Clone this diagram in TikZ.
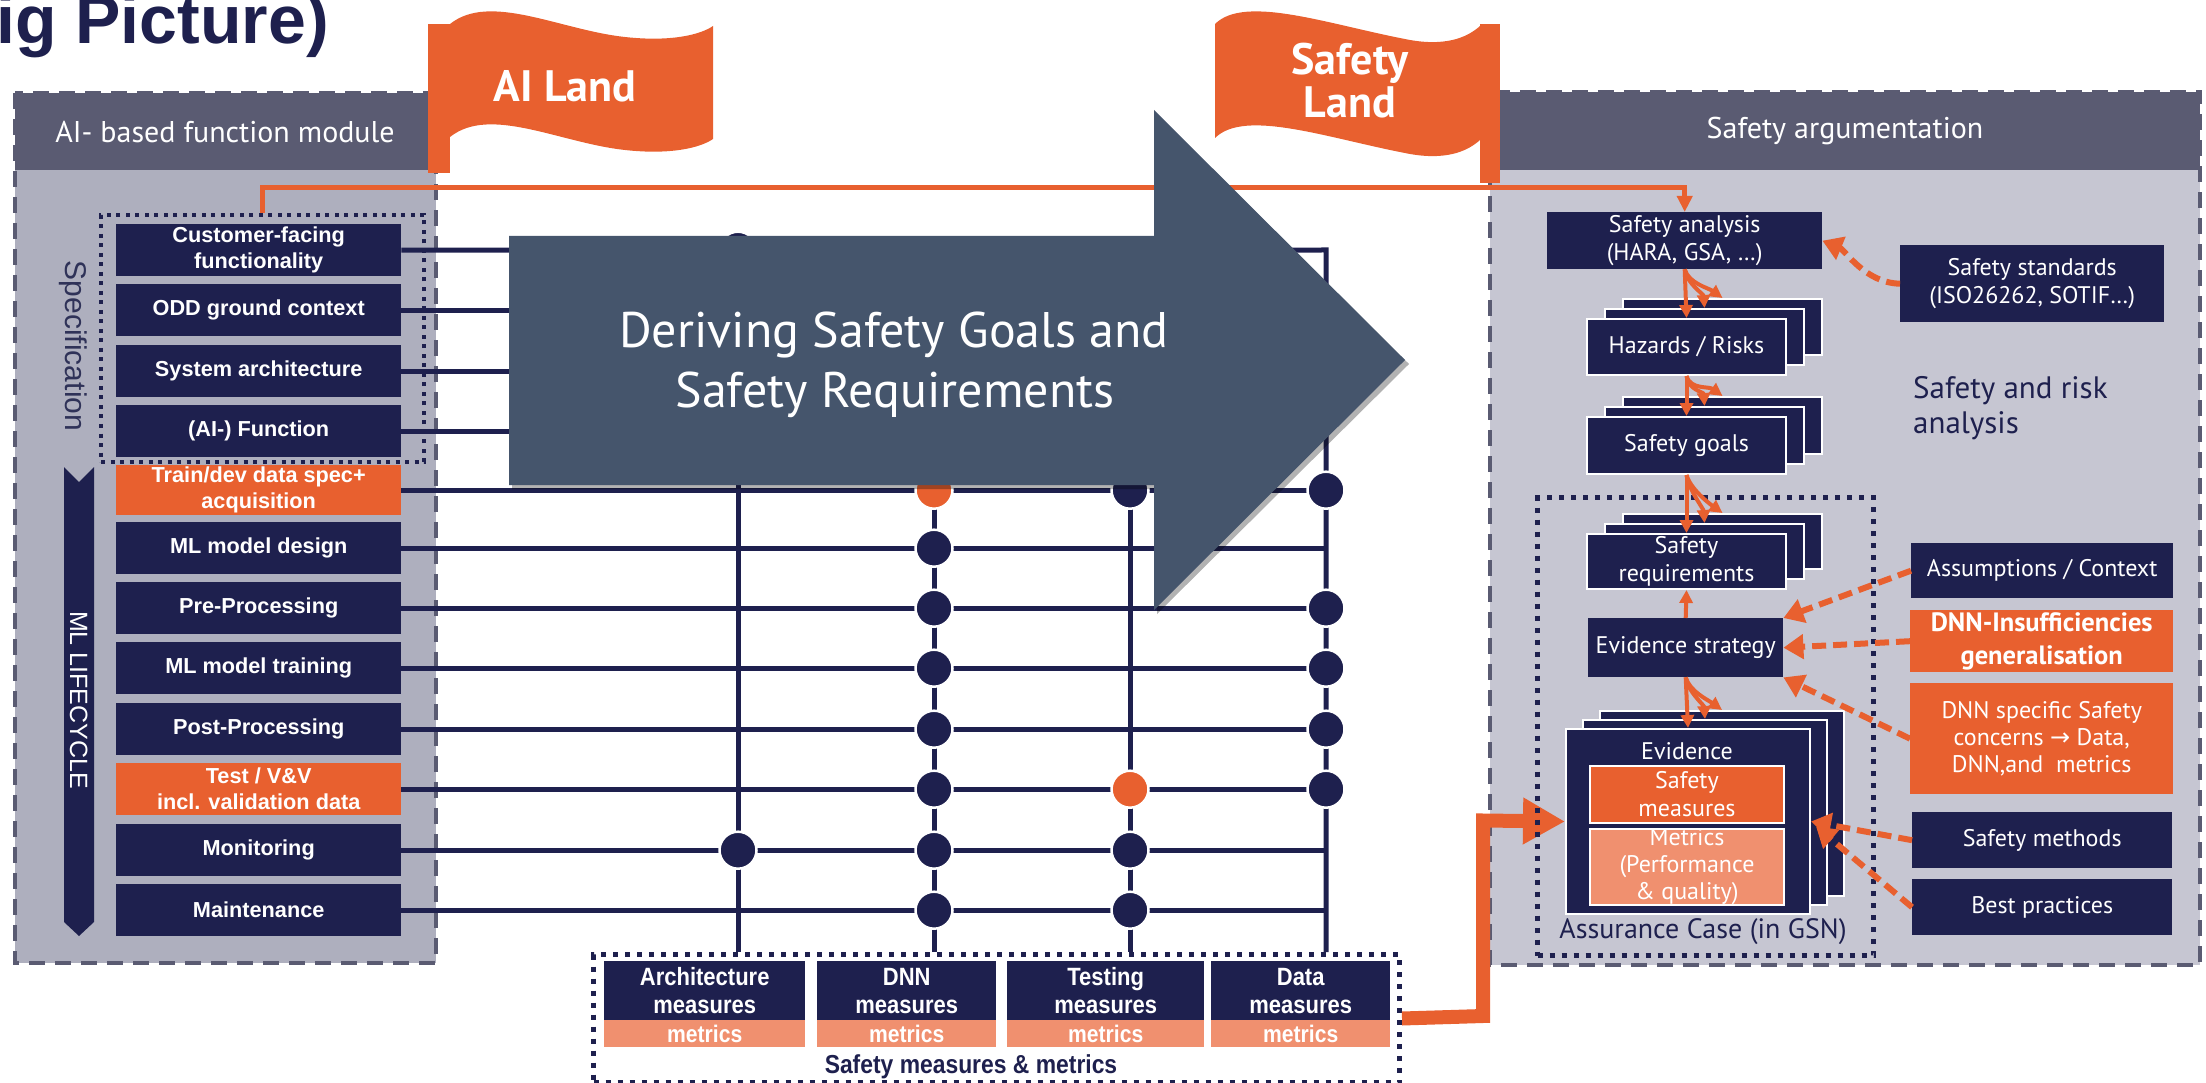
\documentclass[tikz,border=0pt]{standalone}
\usepackage{fontspec}
\setmainfont{PT Sans}
\newfontfamily\lsans{Liberation Sans}
\newfontfamily\nsans[FakeStretch=0.88]{Liberation Sans}
\newfontfamily\dvs{DejaVu Sans}
\usetikzlibrary{arrows.meta}
\definecolor{navy}{HTML}{1E204E}
\definecolor{orng}{HTML}{E8602F}
\definecolor{salmon}{HTML}{F0906F}
\definecolor{hdr}{HTML}{5A5B72}
\definecolor{lbody}{HTML}{AEAFBE}
\definecolor{rbody}{HTML}{C6C6D2}
\definecolor{arrowc}{HTML}{45556C}
\definecolor{specc}{HTML}{2F3258}
\newcommand\fsz[2]{\fontsize{#1}{#2}\selectfont}
\newcommand\stk[5]{%
  \node[sbox, minimum height=#4pt] (#1b) at (#2+36,#3-20) {};
  \node[sbox, minimum height=#4pt] (#1m) at (#2+18,#3-10) {};
  \node[sbox, minimum height=#4pt] (#1f) at (#2,#3) {#5};}
\newcommand\fanx[4]{%
  \draw[fanarr] (#1) -- (#2);
  \draw[fanarr] (#1) .. controls +(2,14) and +(-1,-14) .. (#3);
  \draw[fanarr] (#1) .. controls +(4,14) and +(-14,-10) .. (#4);}
\begin{document}
\begin{tikzpicture}[x=1pt,y=-1pt,
  lbox/.style={rectangle, fill=navy, text=white, inner sep=0pt, minimum width=285pt, minimum height=52pt, anchor=north west, align=center, font=\lsans\bfseries\fsz{21.7}{26}},
  rbox/.style={rectangle, fill=navy, text=white, inner sep=0pt, anchor=north west, align=center, font=\fsz{24}{28}},
  sbox/.style={rbox, draw=white, line width=2pt, minimum width=199pt},
  measbox/.style={rectangle, fill=navy, text=white, inner sep=0pt, anchor=north west, align=center, minimum height=59pt, font=\nsans\bfseries\fsz{25}{28}},
  metr/.style={rectangle, fill=salmon, text=white, inner sep=0pt, anchor=north west, minimum height=27pt, font=\nsans\bfseries\fsz{24}{26}},
  gline/.style={navy, line width=5pt},
  gdot/.style={circle, fill=navy, draw=white, line width=2.5pt, minimum size=37pt, inner sep=0pt},
  godot/.style={gdot, fill=orng},
  dashbox/.style={hdr, line width=4.5pt, dash pattern=on 16pt off 10pt},
  dotbox/.style={draw=navy, line width=5pt, dash pattern=on 5pt off 7pt, inner sep=0pt, anchor=north west},
  fanarr/.style={orng, line width=4pt, -{Triangle[length=13pt,width=13pt]}},
  dasharr/.style={orng, line width=6pt, dash pattern=on 14pt off 7pt, -{Triangle[length=20pt,width=24pt]}},
]
\useasboundingbox (0,0) rectangle (2206,1083);

% title
\node[anchor=base west, inner sep=0pt, text=navy, font=\lsans\bfseries\fsz{68}{74}] (title) at (-4,44) {ig Picture)};

% left panel
\fill[hdr] (15,93) rectangle (436,170);
\fill[lbody] (15,170) rectangle (436,963);
\draw[dashbox] (15,93) rectangle (436,963);
\node[text=white, font=\fsz{30}{34}] (lhdr) at (225,132) {AI- based function module};

% right panel
\fill[hdr] (1490,92) rectangle (2200,170);
\fill[rbody] (1490,170) rectangle (2200,965);
\draw[dashbox] (1490,92) rectangle (2200,965);
\node[text=white, font=\fsz{30}{34}] (rhdr) at (1845,131) {Safety argumentation};

% flags
\fill[orng] (428,24) rectangle (450,173);
\fill[orng] (450,24) .. controls (490,-8) and (560,30) .. (625,37) .. controls (670,42) and (700,35) .. (713,26)
  -- (713,139) .. controls (700,148) and (670,155) .. (625,150) .. controls (560,143) and (490,105) .. (450,137) -- cycle;
\node[anchor=base, text=white, font=\bfseries\fsz{44}{50}, inner sep=0pt] (ail) at (565,102) {AI Land};
\fill[orng] (1480,24) rectangle (1500,183);
\fill[orng] (1215,24) .. controls (1245,-6) and (1330,25) .. (1410,40) .. controls (1450,47) and (1470,35) .. (1480,26)
  -- (1480,140) .. controls (1470,149) and (1450,161) .. (1410,154) .. controls (1330,139) and (1245,108) .. (1215,138) -- cycle;
\node[anchor=base, text=white, font=\bfseries\fsz{44}{50}, inner sep=0pt] (sl1) at (1350,75) {Safety};
\node[anchor=base, text=white, font=\bfseries\fsz{44}{50}, inner sep=0pt] (sl2) at (1350,118) {Land};

% ML lifecycle band and specification label
\fill[navy] (64,467) -- (79,482) -- (94,467) -- (94,922) -- (79,936) -- (64,922) -- cycle;
\node[rotate=-90, anchor=base, text=white, font=\lsans\fsz{25}{30}, inner sep=0pt] (mltxt) at (70,700) {ML LIFECYCLE};
\node[rotate=-90, anchor=base, text=specc, font=\lsans\fsz{30}{34}, inner sep=0pt] (spectxt) at (65,346) {Specification};

% left boxes
\node[lbox] (cf) at (116,224) {Customer-facing\\functionality};
\node[lbox] (odd) at (116,284) {ODD ground context};
\node[lbox] (sys) at (116,345) {System architecture};
\node[lbox] (aif) at (116,405) {(AI-) Function};
\node[lbox, fill=orng, minimum height=50pt] (trn) at (116,465) {Train/dev data spec+\\acquisition};
\node[lbox] (mld) at (116,522) {ML model design};
\node[lbox] (pre) at (116,582) {Pre-Processing};
\node[lbox] (mlt) at (116,642) {ML model training};
\node[lbox] (post) at (116,703) {Post-Processing};
\node[lbox, fill=orng] (test) at (116,763) {Test / V\&V\\incl. validation data};
\node[lbox] (mon) at (116,824) {Monitoring};
\node[lbox] (mnt) at (116,884) {Maintenance};
\node[dotbox, line width=4pt, dash pattern=on 4pt off 5.5pt, minimum width=323pt, minimum height=247pt] (spec) at (99,213) {};

% right panel nodes
\node[rbox, minimum width=275pt, minimum height=57pt] (sa) at (1547,212) {Safety analysis\\(HARA, GSA, …)};
\node[rbox, minimum width=264pt, minimum height=77pt] (ss) at (1900,245) {Safety standards\\(ISO26262, SOTIF…)};
\stk{hz}{1586}{318}{56}{Hazards / Risks}
\stk{g}{1586}{416}{57}{Safety goals}
\stk{r}{1586}{533}{55}{Safety\\requirements}
\node[rbox, minimum width=195pt, minimum height=59pt] (evs) at (1588,618) {Evidence strategy};
\node[sbox, minimum width=244pt, minimum height=185pt] (evb) at (1599,710) {};
\node[sbox, minimum width=244pt, minimum height=185pt] (evm) at (1582,719) {};
\node[sbox, minimum width=244pt, minimum height=185pt] (evf) at (1565,728) {};
\node[text=white, anchor=base, font=\fsz{24}{28}, inner sep=0pt] (evt) at (1687,759) {Evidence};
\node[rbox, fill=orng, draw=white, line width=2pt, minimum width=194pt, minimum height=57pt] (smeas) at (1589,765) {Safety\\measures};
\node[rbox, fill=salmon, draw=white, line width=2pt, minimum width=194pt, minimum height=75pt, font=\fsz{24}{27}] (metx) at (1589,828) {Metrics\\(Performance\\\& quality)};
\node[rbox, minimum width=262pt, minimum height=55pt] (asm) at (1911,543) {Assumptions / Context};
\node[rbox, fill=orng, minimum width=263pt, minimum height=62pt, font=\bfseries\fsz{26.5}{33}] (dnni) at (1910,610) {DNN-Insufficiencies\\generalisation};
\node[rbox, fill=orng, minimum width=263pt, minimum height=111pt, font=\fsz{24}{27}] (dnns) at (1910,683) {DNN specific Safety\\concerns {\dvs →} Data,\\DNN,and\ \ metrics};
\node[rbox, minimum width=260pt, minimum height=56pt] (sm) at (1912,812) {Safety methods};
\node[rbox, minimum width=260pt, minimum height=56pt] (bp) at (1912,879) {Best practices};
\node[anchor=base west, text=navy, font=\fsz{31}{35}, inner sep=0pt] (sra1) at (1913,398) {Safety and risk};
\node[anchor=base west, text=navy, font=\fsz{31}{35}, inner sep=0pt] (sra2) at (1913,433) {analysis};

% top orange line
\draw[orng, line width=5pt, -{Triangle[length=16pt,width=15pt]}] (spec.north) -- ++(0,-25) -| (sa.north);

% grid
\coordinate (v1t) at (738,250); \coordinate (v1b) at (738,952);
\coordinate (v2t) at (934,250); \coordinate (v2b) at (934,952);
\coordinate (v3t) at (1130,250); \coordinate (v3b) at (1130,952);
\coordinate (v4t) at (1326,250); \coordinate (v4b) at (1326,952);
\draw[gline] (v1t) -- (v1b);
\draw[gline] (v2t) -- (v2b);
\draw[gline] (v3t) -- (v3b);
\draw[gline, line join=miter] (cf.east) -- (v4t) -- (v4b);
\foreach \r in {odd,sys,aif,trn,mld,pre,mlt,post,test,mon,mnt}
  \draw[gline] (\r.east) -- (\r.east -| v4t);
\node[gdot] (d1a) at (cf.east -| v1t) {};
\node[godot] (d5b) at (trn.east -| v2t) {};
\node[gdot] (d5c) at (trn.east -| v3t) {};
\node[gdot] (d5d) at (trn.east -| v4t) {};
\node[gdot] (d6b) at (mld.east -| v2t) {};
\node[gdot] (d7b) at (pre.east -| v2t) {};
\node[gdot] (d7d) at (pre.east -| v4t) {};
\node[gdot] (d8b) at (mlt.east -| v2t) {};
\node[gdot] (d8d) at (mlt.east -| v4t) {};
\node[gdot] (d9b) at (post.east -| v2t) {};
\node[gdot] (d9d) at (post.east -| v4t) {};
\node[gdot] (d10b) at (test.east -| v2t) {};
\node[godot] (d10c) at (test.east -| v3t) {};
\node[gdot] (d10d) at (test.east -| v4t) {};
\node[gdot] (d11a) at (mon.east -| v1t) {};
\node[gdot] (d11b) at (mon.east -| v2t) {};
\node[gdot] (d11c) at (mon.east -| v3t) {};
\node[gdot] (d12b) at (mnt.east -| v2t) {};
\node[gdot] (d12c) at (mnt.east -| v3t) {};

% big arrow
\fill[black, opacity=0.3] (512,240) -- (1157,240) -- (1157,114) -- (1409,364) -- (1157,614) -- (1157,489) -- (512,489) -- cycle;
\fill[arrowc] (509,236) -- (1154,236) -- (1154,110) -- (1405,360) -- (1154,610) -- (1154,485) -- (509,485) -- cycle;
\node[anchor=base, text=white, font=\fsz{50}{56}, inner sep=0pt] (at1) at (894,348) {Deriving Safety Goals and};
\node[anchor=base, text=white, font=\fsz{50}{56}, inner sep=0pt] (at2) at (895,407) {Safety Requirements};

% measures
\node[dotbox, minimum width=806pt, minimum height=128pt] (meas) at (591,952) {};
\node[measbox, minimum width=201pt] (ma) at (604,961) {Architecture\\measures};
\node[metr, minimum width=201pt] (mam) at (604,1020) {metrics};
\node[measbox, minimum width=179pt] (md) at (817,961) {DNN\\measures};
\node[metr, minimum width=179pt] (mdm) at (817,1020) {metrics};
\node[measbox, minimum width=197pt] (mt) at (1007,961) {Testing\\measures};
\node[metr, minimum width=197pt] (mtm) at (1007,1020) {metrics};
\node[measbox, minimum width=179pt] (mda) at (1211,961) {Data\\measures};
\node[metr, minimum width=179pt] (mdam) at (1211,1020) {metrics};
\node[anchor=base, text=navy, font=\nsans\bfseries\fsz{26}{28}, inner sep=0pt] (smm) at (971,1073) {Safety measures \& metrics};

% elbow connector
\coordinate (k1) at (1483,1016);
\coordinate (k2) at (1483,820.5);
\draw[orng, line width=14pt, -{Triangle[length=42pt,width=44pt]}] (meas.east) -- (k1) -- (k2) -- (evf.west);

% assurance case box
\node[dotbox, minimum width=336pt, minimum height=458pt] (asc) at (1535,495) {};
\node[anchor=base, text=navy, font=\fsz{28}{31}, inner sep=0pt] (asct) at (1703,938) {Assurance Case (in GSN)};

% dashed arrows
\draw[dasharr] (ss.west) .. controls (1865,283) and (1845,250) .. (sa.east);
\draw[dasharr] (asm.west) -- (evs.north east);
\draw[dasharr] (dnni.west) -- (evs.east);
\draw[dasharr] (dnns.west) -- (evs.south east);
\draw[dasharr] (sm.west) -- (evf.east);
\draw[dasharr] (bp.west) -- ([xshift=5pt,yshift=-5pt]evf.east);

% fan arrows
\fanx{sa.south}{hzf.north}{hzm.north}{hzb.north}
\fanx{hzf.south}{gf.north}{gm.north}{gb.north}
\fanx{gf.south}{rf.north}{rm.north}{rb.north}
\fanx{evs.south}{evf.north}{evm.north}{evb.north}
\draw[fanarr] (evs.north) -- (rf.south);
\end{tikzpicture}
\end{document}
